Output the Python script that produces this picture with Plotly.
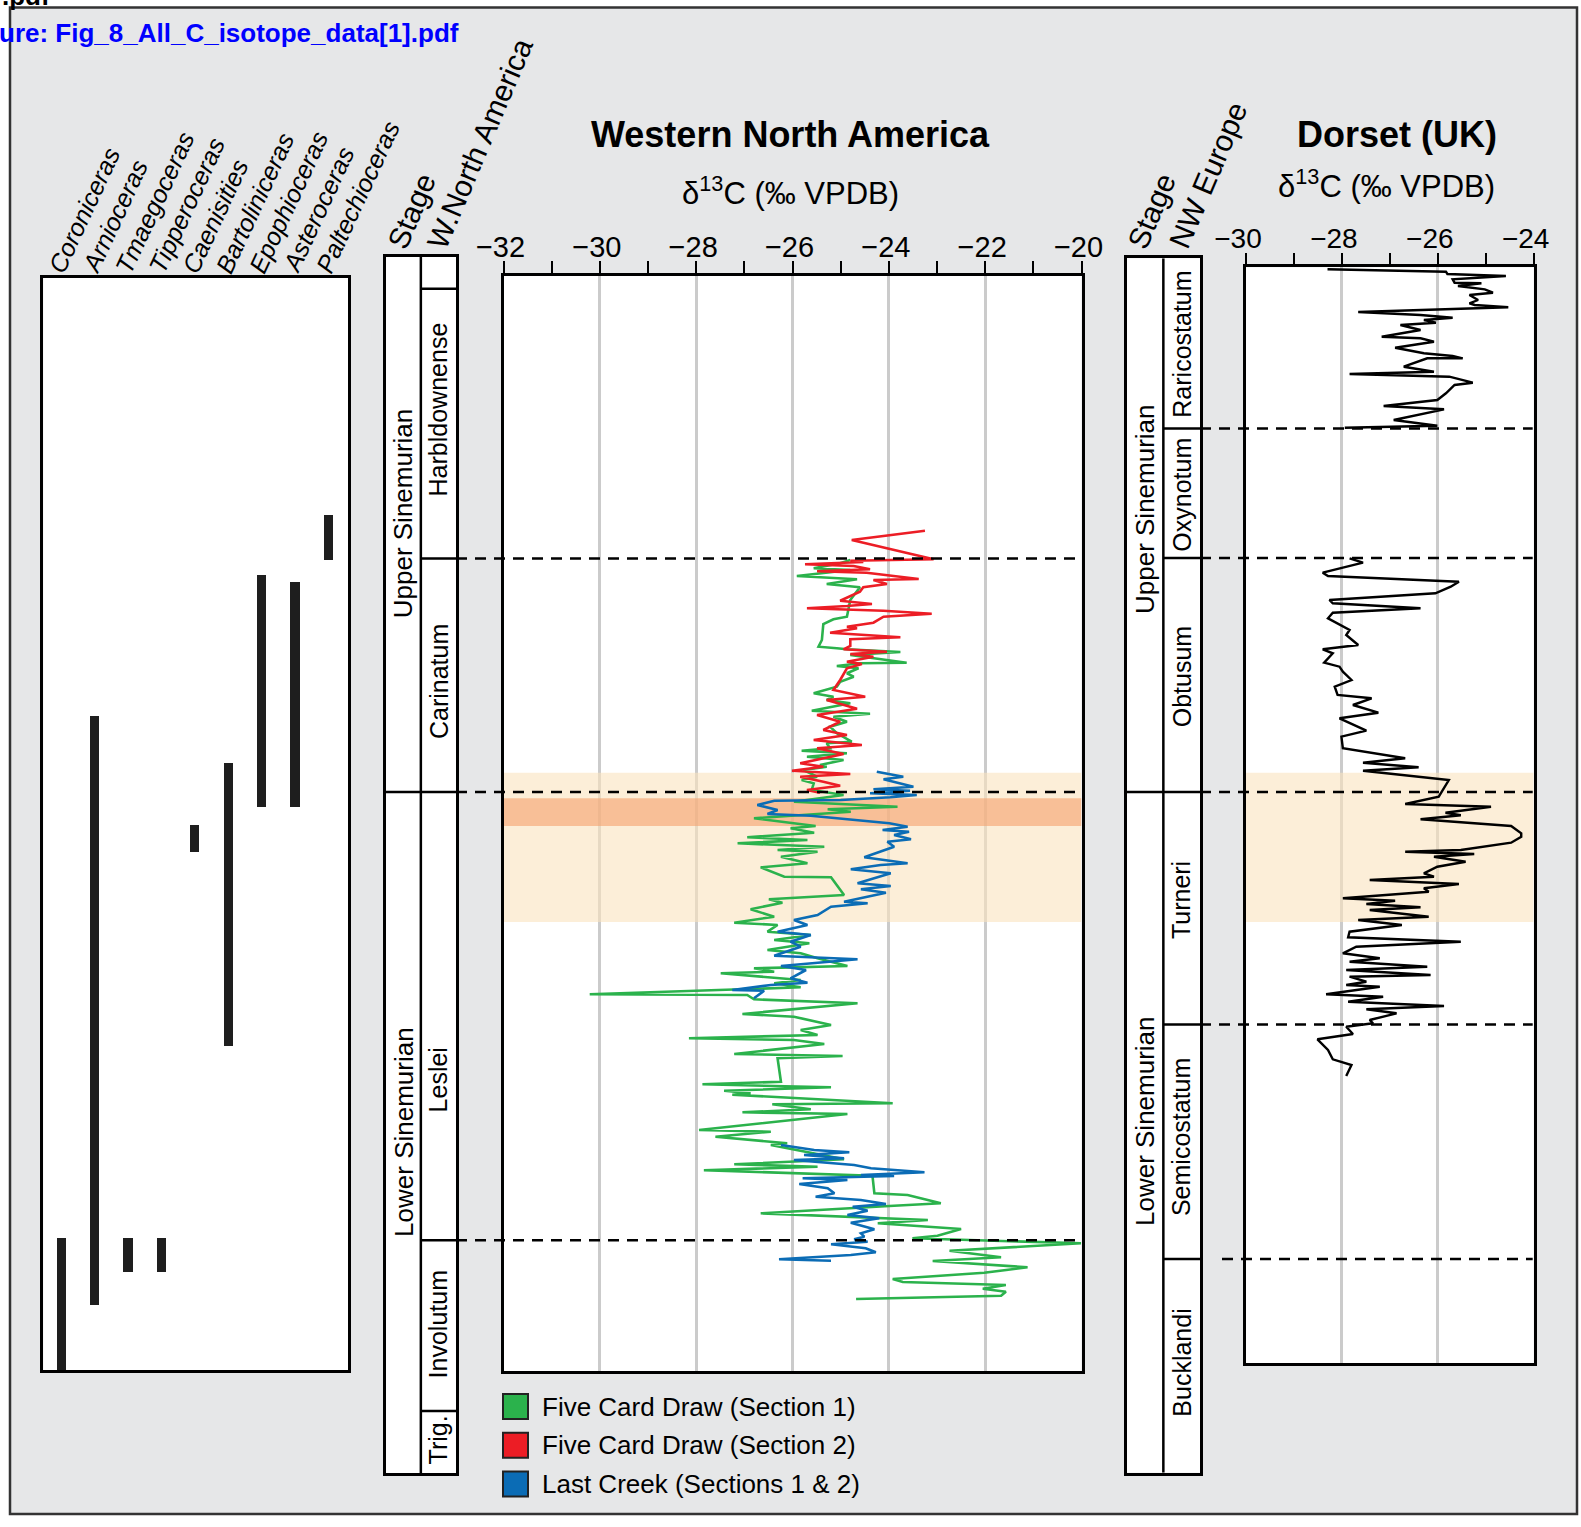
import plotly.graph_objects as go

W, H = 1581, 1527
FONT = "Liberation Sans, Arial, Helvetica, sans-serif"

# ------------------------------------------------------------------
# DATA  (stratigraphic level: arbitrary units, increasing downwards)
# ------------------------------------------------------------------
taxa = ["Coroniceras", "Arnioceras", "Tmaegoceras", "Tipperoceras", "Caenisities",
        "Bartoliniceras", "Epophioceras", "Asteroceras", "Paltechioceras"]
taxon_top = [1238, 716, 1238, 1238, 825, 763, 575, 582, 515]
taxon_base = [1370, 1305, 1272, 1272, 852, 1046, 807, 807, 560]

wna_stages = ["Upper Sinemurian", "Lower Sinemurian"]
wna_stage_bounds = [257, 792, 1473]
wna_zones = ["", "Harbldownense", "Carinatum", "Leslei", "Involutum", "Trig."]
wna_zone_bounds = [257, 288.7, 558.5, 792, 1240.3, 1411, 1473]

nwe_stages = ["Upper Sinemurian", "Lower Sinemurian"]
nwe_stage_bounds = [258.3, 792, 1472.7]
nwe_zones = ["Raricostatum", "Oxynotum", "Obtusum", "Turneri", "Semicostatum", "Bucklandi"]
nwe_zone_bounds = [258.3, 428.5, 558, 792, 1024.4, 1259, 1472.7]

excursion_interval = [772.7, 922.0]
peak_interval = [798.3, 826.0]

wna_ticks = [-32, -30, -28, -26, -24, -22, -20]
dorset_ticks = [-30, -28, -26, -24]

series_names = ["Five Card Draw (Section 1)", "Five Card Draw (Section 2)",
                "Last Creek (Sections 1 & 2)"]
series_colors = ["#2bb24c", "#ec1d25", "#0b6cb5"]

# Five Card Draw, section 1 : (level, d13C)
fcd1 = [(560, -24.80), (563.3, -25.01), (568.3, -25.56), (570, -24.80), (576, -25.91),
        (579.3, -24.66), (584, -25.29), (587.3, -24.60), (600, -24.80), (616.7, -24.87),
        (619.3, -25.15), (624, -25.36), (640, -25.39), (646.7, -25.46), (648.3, -25.08),
        (649.3, -24.87), (652, -23.76), (655, -24.80), (662.7, -23.63), (663.3, -24.60),
        (666, -25.08), (668.3, -24.63), (673.3, -24.87), (676.7, -24.73), (681.7, -25.01),
        (686.7, -25.08), (693.3, -25.56), (696.7, -25.15), (700, -25.29), (703.3, -24.80),
        (710.7, -25.60), (713.7, -24.39), (716.7, -25.15), (721.7, -24.87), (726.7, -25.22),
        (733.3, -25.08), (741.7, -24.77), (743.3, -25.29), (748.3, -25.22), (750.7, -25.81),
        (753.3, -24.87), (756.7, -25.70), (760, -24.94), (765, -25.43), (766.7, -25.29),
        (770, -25.77), (776.7, -25.49), (780, -25.81), (783.3, -25.56), (790, -25.60),
        (795, -24.94), (801.7, -25.97), (806.7, -23.82), (809.3, -25.27), (811.7, -24.79),
        (818.3, -26.80), (826, -25.52), (828.3, -26.04), (832.7, -25.55), (837.3, -26.94),
        (840, -25.69), (843.3, -27.14), (846.7, -25.34), (850, -26.31), (851.7, -25.48),
        (856.7, -26.24), (863.3, -25.69), (867.3, -26.66), (876.7, -26.17), (877.3, -25.20),
        (895, -24.93), (899.3, -26.49), (902.7, -26.21), (909.3, -26.87), (916.7, -26.38),
        (922.7, -27.21), (925, -26.31), (931.7, -26.52), (935, -25.62), (940, -26.38),
        (943.3, -25.65), (950, -26.52), (953.3, -25.83), (958.3, -25.48), (966, -24.86),
        (968.3, -26.80), (971.7, -26.38), (973.3, -27.49), (980, -25.83), (983.3, -26.38),
        (987.3, -25.83), (994.3, -30.21), (995, -26.94), (999.3, -26.80), (1003.3, -24.65),
        (1014, -27.04), (1016.7, -25.97), (1025, -25.20), (1030, -25.83), (1035, -25.48),
        (1038.3, -28.15), (1040, -25.97), (1044, -25.34), (1054, -27.21), (1056, -24.96),
        (1058.3, -26.31), (1081.7, -26.24), (1084.3, -27.87), (1087.3, -25.20), (1090.7, -27.42),
        (1093.3, -26.87), (1094.7, -27.25), (1103.3, -23.92), (1104.3, -26.42), (1109.3, -25.62),
        (1112.3, -27.04), (1114, -24.86), (1130, -27.94), (1131.7, -26.45), (1136.7, -27.60),
        (1143.3, -26.11), (1145, -26.45), (1159.3, -24.93), (1164.3, -27.21), (1166.7, -25.48),
        (1170.3, -27.84), (1175.7, -24.34), (1193.3, -24.30), (1195, -23.61), (1203.3, -22.92),
        (1206, -23.99), (1213.3, -26.66), (1220, -23.19), (1223.3, -24.23), (1229, -22.50),
        (1235.7, -22.99), (1238.3, -23.51), (1243.3, -20.01), (1250.7, -22.74), (1257.3, -21.67),
        (1261, -23.09), (1267.3, -21.12), (1272.7, -22.02), (1279, -23.92), (1282, -23.71),
        (1285, -21.57), (1288.7, -22.05), (1291.7, -21.57), (1295.7, -21.67), (1299, -24.68)]

# Five Card Draw, section 2
fcd2 = [(530.7, -23.25), (540, -24.77), (559.3, -23.07), (560.7, -24.80), (562, -24.53),
        (564.3, -25.74), (566, -24.73), (569.3, -24.39), (571.3, -25.49), (572.7, -24.46),
        (579, -23.38), (580, -24.32), (584, -24.04), (587.3, -24.53), (591.7, -24.60),
        (600.7, -25.01), (604, -24.35), (606, -24.87), (608.3, -25.70), (610.7, -24.11),
        (613.7, -23.11), (616.7, -24.11), (622.7, -24.32), (626.7, -24.87), (628.3, -24.66),
        (632.7, -25.22), (637.3, -23.76), (639.3, -24.80), (646, -24.80), (649.3, -24.94),
        (651.7, -24.04), (654, -24.80), (656.7, -24.32), (661.7, -24.87), (664, -24.56),
        (668.3, -24.87), (680, -25.01), (690, -25.15), (696.7, -24.49), (700, -25.29),
        (708.7, -24.66), (715, -25.49), (721.7, -25.01), (730, -25.36), (735, -24.87),
        (740, -25.56), (745, -24.56), (748.3, -25.49), (754, -24.94), (763.3, -25.84),
        (766.7, -25.36), (770.7, -26.01), (774, -24.80), (776.7, -25.84), (781.7, -25.36),
        (785.7, -25.01), (790, -25.70), (792.7, -25.43)]

# Last Creek, sections 1 & 2 (None = gap between sections)
last_creek = [(771.7, -24.25), (776.7, -23.70), (779.3, -24.11), (786.7, -23.49), (789.3, -24.32),
              (790.7, -23.56), (793.3, -24.39), (795, -23.42), (797.3, -23.97), (800, -25.00),
              (800.7, -26.38), (805, -26.73), (810, -26.31), (814, -26.52), (815.7, -25.62),
              (823.3, -23.99), (826.7, -23.61), (830, -24.13), (831.7, -23.58), (835, -23.89),
              (839.3, -23.54), (841.7, -24.03), (846.7, -23.89), (857.3, -24.51), (863.3, -23.61),
              (865, -24.17), (869.3, -24.79), (873.3, -23.96), (883.3, -24.65), (886, -23.96),
              (889.3, -24.58), (892.7, -24.06), (901.7, -24.93), (903.3, -24.44), (906.7, -25.20),
              (915, -25.48), (920, -25.97), (925, -25.69), (931.7, -26.31), (935, -25.62),
              (941.7, -26.04), (946.7, -25.83), (955.7, -26.38), (959.3, -24.65), (966, -26.24),
              (970, -25.72), (978.3, -26.04), (982.7, -25.69), (985, -26.45), (990, -27.25),
              (990.7, -26.59), (998.3, -26.80), (None, None),
              (1145, -26.24), (1146.7, -25.97), (1150, -25.55), (1152.3, -24.82), (1155, -25.76),
              (1158.3, -24.93), (1160, -25.97), (1165, -24.72), (1168.3, -24.37), (1172.3, -23.26),
              (1175, -24.58), (1176, -23.89), (1178.3, -25.79), (1180, -24.86), (1184, -25.86),
              (1188.3, -25.27), (1193.3, -25.13), (1196.7, -25.52), (1200, -24.58), (1204, -24.06),
              (1206.7, -24.75), (1210.7, -24.44), (1215, -24.86), (1218.3, -24.20), (1222.7, -24.79),
              (1229.3, -24.30), (1233.3, -24.58), (1236.7, -24.51), (1239.3, -24.72), (1241.7, -24.44),
              (1244.3, -25.20), (1248.3, -24.48), (1252.3, -24.27), (1255, -24.79), (1259.3, -26.28),
              (1260.7, -25.20)]

# Dorset (UK)
dorset = [(269.3, -28.30), (271.7, -25.83), (274, -25.80), (276, -24.58), (279.3, -25.69),
          (282.7, -25.65), (283.3, -25.09), (286, -25.58), (289.3, -25.02), (292.7, -24.85),
          (295, -25.34), (300, -25.16), (303.3, -25.34), (305, -25.23), (307.3, -24.53),
          (309.3, -26.01), (312, -27.66), (315, -26.36), (317.7, -25.69), (320, -26.29),
          (322.7, -26.04), (325, -26.78), (330, -26.36), (336.7, -27.17), (338.3, -26.36),
          (341.7, -26.08), (347.7, -26.89), (353.3, -26.29), (356, -25.69), (358.3, -25.48),
          (358.3, -26.22), (366.7, -26.71), (371.7, -26.08), (374, -27.84), (376.7, -25.76),
          (382.7, -25.27), (385, -25.65), (393.3, -25.83), (400, -26.01), (406, -27.13),
          (409.3, -25.87), (420, -26.92), (425.7, -26.01), (427.7, -27.94), (None, None),
          (558.3, -27.84), (562.7, -27.56), (572.7, -28.40), (576, -28.29), (581.7, -25.56),
          (586.7, -25.73), (593.3, -26.05), (600, -28.26), (603.3, -28.19), (608.3, -26.36),
          (612.7, -28.19), (618.3, -28.29), (630, -27.84), (635, -27.91), (645, -27.66),
          (649.3, -28.40), (653.3, -28.19), (662.7, -28.37), (666.7, -28.05), (671.7, -27.98),
          (680, -27.80), (686.7, -28.15), (695, -28.09), (698.3, -27.38), (705, -27.77),
          (712.7, -27.24), (718.3, -28.05), (730.7, -27.49), (736.7, -28.01), (748.3, -27.98),
          (758.3, -26.68), (762.7, -27.56), (767.3, -26.40), (770.7, -27.56), (780, -25.77),
          (788.3, -25.87), (796.7, -25.98), (804, -26.68), (806.7, -24.89), (812.7, -25.84),
          (815.3, -25.52), (819.3, -26.36), (826, -24.47), (833.3, -24.26), (836.7, -24.26),
          (842.7, -24.47), (850, -25.52), (851.7, -26.68), (854, -25.24), (856.7, -26.08),
          (861.7, -25.42), (866.7, -26.01), (873.3, -26.29), (876.7, -26.08), (880, -27.42),
          (884, -25.56), (888.3, -26.29), (891.7, -26.19), (898.3, -27.98), (900.7, -26.89),
          (904, -27.49), (907.3, -26.36), (910, -27.42), (916.7, -26.19), (920, -27.66),
          (925, -26.75), (931.7, -27.84), (937.3, -27.87), (941.7, -25.52), (946.7, -27.70),
          (953.3, -27.98), (958.3, -27.21), (961.7, -27.84), (966.7, -26.22), (970, -27.91),
          (975, -26.15), (976.7, -27.84), (981.7, -27.49), (985, -27.91), (986.7, -27.21),
          (994.3, -28.33), (996.7, -27.14), (1001.7, -27.87), (1006, -25.87), (1009.3, -27.49),
          (1013.3, -26.86), (1020, -27.42), (1023.3, -27.35), (1026.7, -27.91), (1034, -27.77),
          (1039.3, -28.51), (1050, -28.29), (1059.3, -28.19), (1065, -27.80), (1076, -27.91)]


def unzip(points):
    return [p[1] for p in points], [p[0] for p in points]


# ------------------------------------------------------------------
# LAYOUT GEOMETRY (pixels of the 1581 x 1527 page)
# ------------------------------------------------------------------
MAIN = dict(l=503.5, r=1081.5, t=276, b=1371)
DOR = dict(l=1246, r=1533.7, t=267.3, b=1363.3)
AMM = dict(l=43.3, r=348.3, t=277.7, b=1370)
WNA = dict(l=385.7, r=456, t=257, b=1473)
NWE = dict(l=1126.7, r=1200, t=258.3, b=1472.7)
FRAME = dict(l=10, r=1577, t=7.5, b=1514)
AMM_X0, AMM_DX = 61.5, 33.4       # first bar centre, bar spacing (px)
PAGE_GREY = "#e6e7e8"


def px(x):
    return x / W


def py(y):
    return 1 - y / H


def xdom(p):
    return [px(p["l"]), px(p["r"])]


def ydom(p):
    return [py(p["b"]), py(p["t"])]


BORDER = dict(showline=True, mirror=True, linecolor="black", linewidth=2.5,
              zeroline=False, fixedrange=True, automargin=False)
HIDDEN = dict(ticks="", showticklabels=False, showgrid=False)

fig = go.Figure()

# ammonite range bars
fig.add_trace(go.Bar(x=taxa, y=[b - t for t, b in zip(taxon_top, taxon_base)], base=taxon_top,
                     width=0.27, marker=dict(color="#1e1e1e", line=dict(width=0)),
                     xaxis="x3", yaxis="y3", hoverinfo="skip"))

# isotope curves, Western North America
for pts, name, col in zip([fcd1, last_creek, fcd2],
                          [series_names[0], series_names[2], series_names[1]],
                          [series_colors[0], series_colors[2], series_colors[1]]):
    xs, ys = unzip(pts)
    fig.add_trace(go.Scatter(x=xs, y=ys, mode="lines", name=name, connectgaps=False,
                             line=dict(color=col, width=2.6), xaxis="x", yaxis="y"))

# Dorset curve
xs, ys = unzip(dorset)
fig.add_trace(go.Scatter(x=xs, y=ys, mode="lines", name="Dorset", connectgaps=False,
                         line=dict(color="black", width=2.4), xaxis="x2", yaxis="y2"))

# empty traces so the stage-column subplots exist
for ax in ["4", "5"]:
    fig.add_trace(go.Scatter(x=[None], y=[None], xaxis="x" + ax, yaxis="y" + ax,
                             showlegend=False, hoverinfo="skip"))

shapes = []
annotations = []

# page frame: white outside, grey inside (paper colour), dark outline
for x0, x1, y0, y1 in [(0, FRAME["l"], 0, H), (FRAME["r"], W, 0, H),
                       (0, W, 0, FRAME["t"]), (0, W, FRAME["b"], H)]:
    shapes.append(dict(type="rect", xref="paper", yref="paper", x0=px(x0), x1=px(x1),
                       y0=py(y1), y1=py(y0), fillcolor="white", line=dict(width=0),
                       layer="below"))
shapes.append(dict(type="rect", xref="paper", yref="paper", x0=px(FRAME["l"]), x1=px(FRAME["r"]),
                   y0=py(FRAME["b"]), y1=py(FRAME["t"]), fillcolor="rgba(0,0,0,0)",
                   line=dict(color="#333333", width=2.5), layer="below"))

# highlight bands
band_light = "rgba(250,226,190,0.6)"
band_dark = "rgba(245,160,108,0.6)"
shapes.append(dict(type="rect", xref="x", yref="y", x0=wna_ticks[0], x1=wna_ticks[-1],
                   y0=excursion_interval[0], y1=excursion_interval[1], fillcolor=band_light,
                   line=dict(width=0), layer="between"))
shapes.append(dict(type="rect", xref="x", yref="y", x0=wna_ticks[0], x1=wna_ticks[-1],
                   y0=peak_interval[0], y1=peak_interval[1], fillcolor=band_dark,
                   line=dict(width=0), layer="between"))
shapes.append(dict(type="rect", xref="x2", yref="y2", x0=dorset_ticks[0], x1=dorset_ticks[-1],
                   y0=excursion_interval[0], y1=excursion_interval[1], fillcolor=band_light,
                   line=dict(width=0), layer="between"))

DASH = "11px,8px"
# dashed zone boundaries - Western North America
for lv in [wna_zone_bounds[2], wna_zone_bounds[3], wna_zone_bounds[4]]:
    shapes.append(dict(type="line", xref="paper", yref="y", x0=px(WNA["r"]), x1=px(MAIN["r"] - 1),
                       y0=lv, y1=lv, line=dict(color="black", width=2.5, dash=DASH), layer="above"))
# dashed zone boundaries - Dorset
for i, lv in enumerate(nwe_zone_bounds[1:-1]):
    x0 = NWE["r"] if i < 4 else NWE["r"] + 22
    shapes.append(dict(type="line", xref="paper", yref="y2", x0=px(x0), x1=px(DOR["r"] - 1),
                       y0=lv, y1=lv, line=dict(color="black", width=2.5, dash=DASH), layer="above"))


def stage_column(ax, stage_bounds, zone_bounds, stages, zones, stage_label_lv, zone_label_lv):
    xr, yr = "x" + ax, "y" + ax
    shapes.append(dict(type="line", xref=xr, yref=yr, x0=1, x1=1, y0=zone_bounds[0],
                       y1=zone_bounds[-1], line=dict(color="black", width=2.5)))
    for lv in zone_bounds[1:-1]:
        full = lv in stage_bounds[1:-1]
        shapes.append(dict(type="line", xref=xr, yref=yr, x0=0 if full else 1, x1=2,
                           y0=lv, y1=lv, line=dict(color="black", width=2.5)))
    for name, lv in zip(stages, stage_label_lv):
        annotations.append(dict(text=name, xref=xr, yref=yr, x=0.5, y=lv, textangle=-90,
                                showarrow=False, font=dict(size=26, color="black", family=FONT)))
    for name, lv in zip(zones, zone_label_lv):
        if name:
            annotations.append(dict(text=name, xref=xr, yref=yr, x=1.5, y=lv, textangle=-90,
                                    showarrow=False,
                                    font=dict(size=25, color="black", family=FONT)))


stage_column("4", wna_stage_bounds, wna_zone_bounds, wna_stages, wna_zones,
             [513, 1131.6], [None, 409, 681.6, 1080, 1324, 1440])
stage_column("5", nwe_stage_bounds, nwe_zone_bounds, nwe_stages, nwe_zones,
             [509, 1121], [344, 495, 676.6, 900.4, 1137.4, 1363])

# ammonite names
for name in taxa:
    annotations.append(dict(text="<i>" + name + "</i>", xref="x3", yref="paper", x=name, y=py(280),
                            xanchor="left", yanchor="bottom", xshift=-21, textangle=-65,
                            showarrow=False, font=dict(size=25, color="black", family=FONT)))

# column headers
for text, x0, y0 in [("Stage", 378, 256), ("W.North America", 418, 256),
                     ("Stage", 1118, 256), ("NW Europe", 1160, 256)]:
    annotations.append(dict(text=text, xref="paper", yref="paper", x=px(x0), y=py(y0),
                            xanchor="left", yanchor="bottom", textangle=-67, showarrow=False,
                            font=dict(size=30, color="black", family=FONT)))

# titles
for text, xc, yc, size in [("<b>Western North America</b>", 790, 134, 36),
                           ("δ<sup>13</sup>C (‰ VPDB)", 790, 191, 31),
                           ("<b>Dorset (UK)</b>", 1397, 134, 36),
                           ("δ<sup>13</sup>C (‰ VPDB)", 1386, 184, 31)]:
    annotations.append(dict(text=text, xref="paper", yref="paper", x=px(xc), y=py(yc),
                            xanchor="center", yanchor="middle", showarrow=False,
                            font=dict(size=size, color="black", family=FONT)))

# file header text
annotations.append(dict(text="<b>ure: Fig_8_All_C_isotope_data[1].pdf</b>", xref="paper",
                        yref="paper", x=px(461), y=py(33), xanchor="right", yanchor="middle",
                        showarrow=False, font=dict(size=26, color="#0000ff", family=FONT)))
annotations.append(dict(text="<b>.pdf</b>", xref="paper", yref="paper", x=px(0), y=py(-4),
                        xanchor="left", yanchor="middle", showarrow=False,
                        font=dict(size=26, color="black", family=FONT)))

# legend
for i, (name, col) in enumerate(zip(series_names, series_colors)):
    yc = 1406.5 + 38.7 * i
    shapes.append(dict(type="rect", xref="paper", yref="paper", x0=px(503), x1=px(528),
                       y0=py(yc + 12.5), y1=py(yc - 12.5), fillcolor=col,
                       line=dict(color="#222222", width=2)))
    annotations.append(dict(text=name, xref="paper", yref="paper", x=px(540), y=py(yc),
                            xanchor="left", yanchor="middle", showarrow=False,
                            font=dict(size=26, color="black", family=FONT)))

GRID = "#cbcbcb"
fig.update_layout(
    width=W, height=H, margin=dict(l=0, r=0, t=0, b=0, pad=0, autoexpand=False),
    paper_bgcolor=PAGE_GREY, plot_bgcolor="white", showlegend=False,
    font=dict(family=FONT, color="black"),
    shapes=shapes, annotations=annotations, bargap=0,
    xaxis=dict(domain=xdom(MAIN), range=[wna_ticks[0], wna_ticks[-1]], side="top", anchor="y",
               tickmode="array", tickvals=wna_ticks, ticks="outside", ticklen=12, tickwidth=2,
               tickcolor="black", tickfont=dict(size=29, family=FONT), ticklabelshift=-3,
               ticklabelstandoff=-7,
               showgrid=True, gridcolor=GRID, gridwidth=3,
               minor=dict(tickvals=[-31, -29, -27, -25, -23, -21], ticks="outside", ticklen=12,
                          tickwidth=2, tickcolor="black", showgrid=False),
               **BORDER),
    yaxis=dict(domain=ydom(MAIN), range=[MAIN["b"], MAIN["t"]], anchor="x", **HIDDEN, **BORDER),
    xaxis2=dict(domain=xdom(DOR), range=[dorset_ticks[0], dorset_ticks[-1]], side="top",
                anchor="y2", tickmode="array", tickvals=dorset_ticks, ticks="outside",
                ticklen=12, tickwidth=2, tickcolor="black", tickfont=dict(size=28, family=FONT),
                ticklabelshift=-8, ticklabelstandoff=-7,
                showgrid=True, gridcolor=GRID, gridwidth=3,
                minor=dict(tickvals=[-29, -27, -25], ticks="outside", ticklen=12, tickwidth=2,
                           tickcolor="black", showgrid=False),
                **BORDER),
    yaxis2=dict(domain=ydom(DOR), range=[DOR["b"], DOR["t"]], anchor="x2", **HIDDEN, **BORDER),
    xaxis3=dict(domain=xdom(AMM), type="category", categoryorder="array", categoryarray=taxa,
                range=[(AMM["l"] - AMM_X0) / AMM_DX, (AMM["r"] - AMM_X0) / AMM_DX],
                anchor="y3", **HIDDEN, **BORDER),
    yaxis3=dict(domain=ydom(AMM), range=[AMM["b"], AMM["t"]], anchor="x3", **HIDDEN, **BORDER),
    xaxis4=dict(domain=xdom(WNA), range=[0, 2], anchor="y4", **HIDDEN, **BORDER),
    yaxis4=dict(domain=ydom(WNA), range=[WNA["b"], WNA["t"]], anchor="x4", **HIDDEN, **BORDER),
    xaxis5=dict(domain=xdom(NWE), range=[0, 2], anchor="y5", **HIDDEN, **BORDER),
    yaxis5=dict(domain=ydom(NWE), range=[NWE["b"], NWE["t"]], anchor="x5", **HIDDEN, **BORDER),
)

fig.write_html("out.html", config={"displayModeBar": False},
               post_script="document.body.style.margin='0';")
